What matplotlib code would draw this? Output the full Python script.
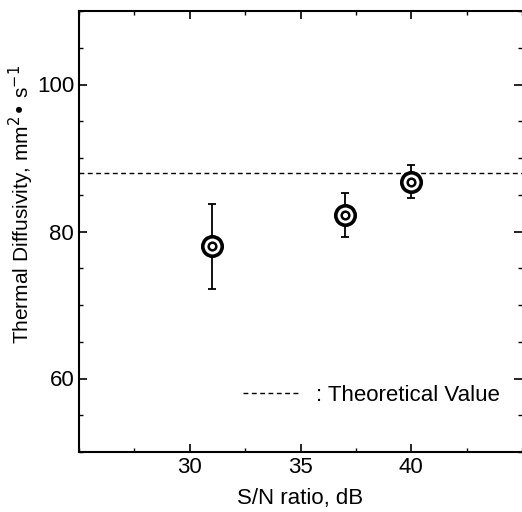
import matplotlib.pyplot as plt
from matplotlib.ticker import MultipleLocator

plt.rcParams['font.family'] = ['Liberation Sans', 'DejaVu Sans']

# data
sn_ratio = [31, 37, 40]
diffusivity = [78.0, 82.3, 86.8]
err_low = [72.2, 79.2, 84.6]
err_high = [83.7, 85.3, 89.1]
theoretical = 88.0

yerr = [[d - lo for d, lo in zip(diffusivity, err_low)],
        [hi - d for d, hi in zip(diffusivity, err_high)]]

fig = plt.figure(figsize=(5.22, 5.12), dpi=100)
ax = fig.add_axes([79/522, 60/512, 443/522, 441/512])

ax.axhline(theoretical, color='black', lw=1.0, ls=(0, (3.5, 2.5)),
           label=': Theoretical Value')
ax.errorbar(sn_ratio, diffusivity, yerr=yerr, fmt='none', ecolor='black',
            elinewidth=1.3, capsize=3, capthick=1.3, zorder=3)
ax.plot(sn_ratio, diffusivity, 'o', ms=14, mfc='white', mec='black', mew=2.6, zorder=4)
ax.plot(sn_ratio, diffusivity, 'o', ms=5.5, mfc='white', mec='black', mew=1.8, zorder=5)

ax.set_xlim(25, 45)
ax.set_ylim(50, 110)
ax.xaxis.set_major_locator(MultipleLocator(5))
ax.xaxis.set_minor_locator(MultipleLocator(2.5))
ax.yaxis.set_major_locator(MultipleLocator(20))
ax.yaxis.set_minor_locator(MultipleLocator(5))
ax.set_xticks([30, 35, 40])
ax.tick_params(which='both', direction='in', top=True, right=True, labelsize=16)
ax.tick_params(which='major', length=6, width=1.2)
ax.tick_params(which='minor', length=3, width=1.0)
for side in ['left', 'bottom', 'top']:
    ax.spines[side].set_linewidth(1.5)
ax.spines['right'].set_visible(False)

ax.set_xlabel('S/N ratio, dB', fontsize=16, labelpad=7)
ax.set_ylabel('Thermal Diffusivity, mm$^{2}$• s$^{-1}$', fontsize=15)
ax.yaxis.set_label_coords(-0.097, 0.562)

ax.legend(loc='lower right', bbox_to_anchor=(0.995, 0.06), frameon=False,
          fontsize=16, handlelength=2.6, handletextpad=0.7)

fig.savefig('out.png', dpi=100)
